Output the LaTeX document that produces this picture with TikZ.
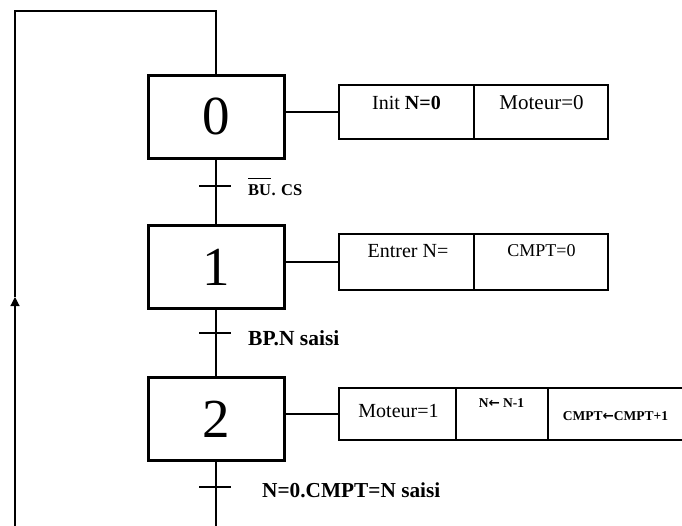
\documentclass[tikz,border=0pt]{standalone}
\usepackage{fontspec}
\setmainfont{Liberation Serif}
\newfontfamily\arrfont{DejaVu Sans}
\usetikzlibrary{arrows.meta}
\newcommand{\larr}{{\arrfont\bfseries ←}}
\begin{document}
\begin{tikzpicture}[x=1pt,y=-1pt,
  stepbox/.style={draw,line width=3pt,minimum width=136pt,minimum height=83pt,inner sep=0pt,
    font=\fontsize{55}{60}\selectfont},
  cell/.style={draw,line width=1.2pt,inner sep=0pt},
  acttxt/.style={inner sep=0pt,font=\fontsize{20}{22}\selectfont},
  smalltxt/.style={inner sep=0pt,font=\fontsize{13.5}{15}\selectfont\bfseries},
  trtxt/.style={inner sep=0pt,anchor=west,font=\fontsize{21.5}{23}\selectfont\bfseries},
  link/.style={line width=1.2pt}]
\useasboundingbox (0,0) rectangle (682,525);
% steps
\node[stepbox] (s0) at (216,116.5) {0};
\node[stepbox] (s1) at (216,267) {1};
\node[stepbox] (s2) at (216,419) {2};
% action cells
\node[cell,minimum width=135pt,minimum height=54pt] (a0a) at (406.5,112) {};
\node[cell,minimum width=134pt,minimum height=54pt] (a0b) at (541,112) {};
\node[cell,minimum width=135pt,minimum height=56pt] (a1a) at (406.5,262) {};
\node[cell,minimum width=134pt,minimum height=56pt] (a1b) at (541,262) {};
\node[cell,minimum width=117pt,minimum height=52pt] (a2a) at (397.5,414) {};
\node[cell,minimum width=92pt,minimum height=52pt] (a2b) at (502,414) {};
\node[cell,minimum width=142pt,minimum height=52pt] (a2c) at (619,414) {};
% action texts
\node[acttxt] (t0a) at (406.5,103) {Init \textbf{N=0}};
\node[acttxt,font=\fontsize{21}{23}\selectfont] (t0b) at (541.5,103) {Moteur=0};
\node[acttxt] (t1a) at (408,251) {Entrer N=};
\node[acttxt,font=\fontsize{18}{20}\selectfont] (t1b) at (541.5,251) {CMPT=0};
\node[acttxt] (t2a) at (398.5,411) {Moteur=1};
\node[smalltxt] (t2b) at (501.5,403) {N\larr\ N-1};
\node[smalltxt] (t2c) at (615.5,416) {CMPT\larr CMPT+1};
% links to actions
\draw[link] (a0a.west) -- (a0a.west -| s0.east);
\draw[link] (a1a.west) -- (a1a.west -| s1.east);
\draw[link] (a2a.west) -- (a2a.west -| s2.east);
% transitions
\coordinate (tr1) at (216,186);
\coordinate (tr2) at (216,333);
\coordinate (tr3) at (216,487);
\coordinate (bot) at (216,530);
\draw[link] (s0.south) -- (s1.north);
\draw[link] (s1.south) -- (s2.north);
\draw[link] (s2.south) -- (bot);
\foreach \t in {tr1,tr2,tr3}{\draw[link] ([xshift=-17pt]\t) -- ([xshift=15pt]\t);}
\node[trtxt,font=\fontsize{16.5}{18}\selectfont\bfseries] (l1bu) at (248,190) {BU};
\node[trtxt,font=\fontsize{16.5}{18}\selectfont\bfseries] (l1) at (l1bu.east) {. CS};
\draw[line width=1.2pt] ([yshift=6pt]l1bu.north west) -- ([yshift=6pt]l1bu.north east);
\node[trtxt] (l2) at (248,338) {BP.N saisi};
\node[trtxt,font=\fontsize{21.3}{23}\selectfont\bfseries] (l3) at (262,490) {N=0.CMPT=N saisi};
% loop
\coordinate (lb) at (15,530);
\coordinate (la) at (15,297);
\coordinate (lt) at (15,11);
\coordinate (rt) at (216,11);
\draw[link,-{Triangle[length=9pt,width=9pt]}] (lb) -- (la);
\draw[link] (la) -- (lt) -- (rt) -- (s0.north);
\end{tikzpicture}
\end{document}
